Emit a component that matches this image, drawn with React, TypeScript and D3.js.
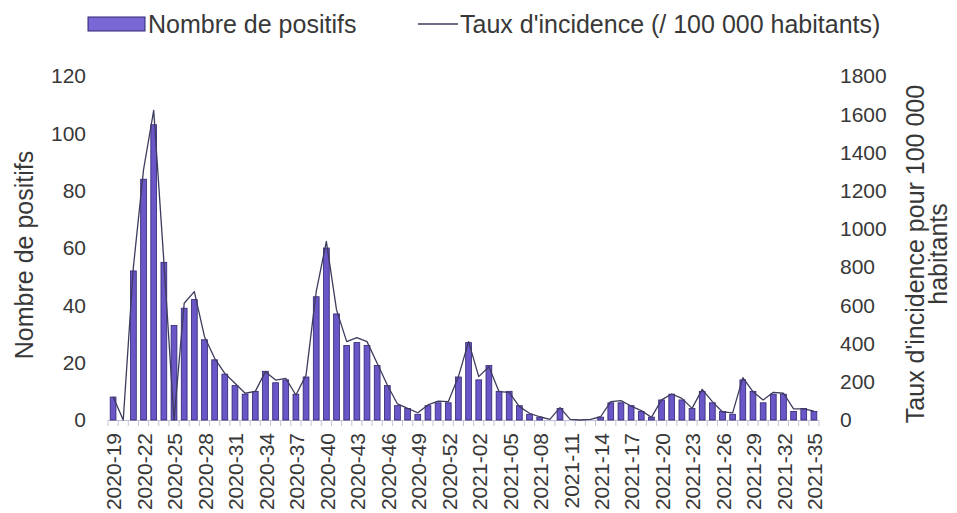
import React, { useEffect, useRef } from "react";
import * as d3 from "d3";

const weeks = [
  "2020-19", "2020-20", "2020-21", "2020-22", "2020-23", "2020-24", "2020-25", "2020-26", "2020-27", "2020-28",
  "2020-29", "2020-30", "2020-31", "2020-32", "2020-33", "2020-34", "2020-35", "2020-36", "2020-37", "2020-38",
  "2020-39", "2020-40", "2020-41", "2020-42", "2020-43", "2020-44", "2020-45", "2020-46", "2020-47", "2020-48",
  "2020-49", "2020-50", "2020-51", "2020-52", "2020-53", "2021-01", "2021-02", "2021-03", "2021-04", "2021-05",
  "2021-06", "2021-07", "2021-08", "2021-09", "2021-10", "2021-11", "2021-12", "2021-13", "2021-14", "2021-15",
  "2021-16", "2021-17", "2021-18", "2021-19", "2021-20", "2021-21", "2021-22", "2021-23", "2021-24", "2021-25",
  "2021-26", "2021-27", "2021-28", "2021-29", "2021-30", "2021-31", "2021-32", "2021-33", "2021-34", "2021-35",
];

// weeks shown under the axis
const tickLabels = [
  "2020-19", "2020-22", "2020-25", "2020-28", "2020-31", "2020-34", "2020-37", "2020-40", "2020-43", "2020-46",
  "2020-49", "2020-52", "2021-02", "2021-05", "2021-08", "2021-11", "2021-14", "2021-17", "2021-20", "2021-23",
  "2021-26", "2021-29", "2021-32", "2021-35",
];

const positifs = [
  8, 0, 52, 84, 103, 55, 33, 39, 42, 28,
  21, 16, 12, 9, 10, 17, 13, 14, 9, 15,
  43, 60, 37, 26, 27, 26, 19, 12, 5, 4,
  2, 5, 6, 6, 15, 27, 14, 19, 10, 10,
  5, 2, 1, 0, 4, 0, 0, 0, 1, 6,
  6, 5, 3, 1, 7, 9, 7, 4, 10, 6,
  3, 2, 14, 10, 6, 9, 9, 3, 4, 3,
];

const incidence = [
  122, 0, 800, 1310, 1620, 830, 0, 611, 672, 436,
  323, 244, 192, 140, 150, 253, 209, 218, 131, 235,
  672, 934, 576, 410, 431, 410, 297, 183, 84, 61,
  38, 79, 99, 96, 227, 410, 227, 279, 148, 145,
  70, 35, 17, 3, 65, 3, 0, 3, 17, 96,
  101, 73, 49, 14, 105, 136, 113, 61, 160, 96,
  42, 37, 222, 148, 105, 145, 140, 58, 58, 46,
];

const leftTicks = [0, 20, 40, 60, 80, 100, 120];
const rightTicks = [0, 200, 400, 600, 800, 1000, 1200, 1400, 1600, 1800];

const W = 957;
const H = 513;
const FONT = "'Liberation Sans', Arial, sans-serif";
const BAR_FILL = "#6a56c6";
const BAR_STROKE = "#2e2672";
const LINE_COLOR = "#3c3c5e";
const TEXT_COLOR = "#383838";

export default function App() {
  const svgRef = useRef<SVGSVGElement | null>(null);

  useEffect(() => {
    const svg = d3.select(svgRef.current);
    svg.selectAll("*").remove();

    const x = d3.scaleBand<string>().domain(weeks).range([108, 819]).padding(0);
    const yL = d3.scaleLinear().domain([0, 120]).range([420, 76]);
    const yR = d3.scaleLinear().domain([0, 1800]).range([420, 76]);
    const bw = x.bandwidth() * 0.57;
    const cx = (w: string) => (x(w) as number) + x.bandwidth() / 2;

    // x axis line + ticks at band edges
    svg.append("line")
      .attr("x1", x.range()[0]).attr("x2", x.range()[1])
      .attr("y1", 420.5).attr("y2", 420.5)
      .style("stroke", "#bcbcd4").style("stroke-width", 1);

    const edges = weeks.map((w) => x(w) as number).concat([x.range()[1]]);
    svg.selectAll(".xtick")
      .data(edges)
      .enter().append("line")
      .attr("class", "xtick")
      .attr("x1", (d) => d).attr("x2", (d) => d)
      .attr("y1", 420).attr("y2", 426)
      .style("stroke", "#c4c4d8").style("stroke-width", 1);

    // bars
    svg.selectAll(".bar")
      .data(weeks)
      .enter().append("rect")
      .attr("class", "bar")
      .attr("x", (d) => cx(d) - bw / 2)
      .attr("width", bw)
      .attr("y", (d, i) => yL(positifs[i]))
      .attr("height", (d, i) => 420 - yL(positifs[i]))
      .style("fill", BAR_FILL)
      .style("stroke", BAR_STROKE)
      .style("stroke-width", 0.8);

    // incidence line
    const line = d3.line<number>()
      .x((d, i) => cx(weeks[i]))
      .y((d) => yR(d));

    svg.append("path")
      .datum(incidence)
      .attr("d", line)
      .style("fill", "none")
      .style("stroke", LINE_COLOR)
      .style("stroke-width", 1.3)
      .style("stroke-linejoin", "round");

    // left ticks
    svg.selectAll(".lt")
      .data(leftTicks)
      .enter().append("text")
      .attr("x", 86)
      .attr("y", (d) => yL(d))
      .attr("dy", "0.35em")
      .attr("text-anchor", "end")
      .style("font-family", FONT)
      .style("font-size", "21px")
      .style("fill", TEXT_COLOR)
      .text((d) => d);

    // right ticks
    svg.selectAll(".rt")
      .data(rightTicks)
      .enter().append("text")
      .attr("x", 840)
      .attr("y", (d) => yR(d))
      .attr("dy", "0.35em")
      .attr("text-anchor", "start")
      .style("font-family", FONT)
      .style("font-size", "21px")
      .style("fill", TEXT_COLOR)
      .text((d) => d);

    // week labels
    svg.selectAll(".wl")
      .data(tickLabels)
      .enter().append("text")
      .attr("transform", (d) => `translate(${cx(d) + 1},433) rotate(-90)`)
      .attr("dy", "0.35em")
      .attr("text-anchor", "end")
      .style("font-family", FONT)
      .style("font-size", "21px")
      .style("fill", TEXT_COLOR)
      .text((d) => d);

    // axis titles
    svg.append("text")
      .attr("transform", "translate(24,255) rotate(-90)")
      .attr("dy", "0.35em")
      .attr("text-anchor", "middle")
      .style("font-family", FONT)
      .style("font-size", "25px")
      .style("fill", TEXT_COLOR)
      .text("Nombre de positifs");

    const rTitle = ["Taux d'incidence pour 100 000", "habitants"];
    svg.selectAll(".rtitle")
      .data(rTitle)
      .enter().append("text")
      .attr("transform", (d, i) => `translate(${915 + i * 23},254) rotate(-90)`)
      .attr("dy", "0.35em")
      .attr("text-anchor", "middle")
      .style("font-family", FONT)
      .style("font-size", "25px")
      .style("fill", TEXT_COLOR)
      .text((d) => d);

    // legend
    const lg = svg.append("g");
    lg.append("rect")
      .attr("x", 88).attr("y", 17).attr("width", 57).attr("height", 14)
      .style("fill", "#7b68d6").style("stroke", BAR_STROKE).style("stroke-width", 1);
    lg.append("text")
      .attr("x", 148).attr("y", 24).attr("dy", "0.35em")
      .style("font-family", FONT).style("font-size", "25px").style("fill", TEXT_COLOR)
      .text("Nombre de positifs");
    lg.append("line")
      .attr("x1", 418).attr("x2", 458).attr("y1", 24).attr("y2", 24)
      .style("stroke", LINE_COLOR).style("stroke-width", 1.3);
    lg.append("text")
      .attr("x", 460).attr("y", 24).attr("dy", "0.35em")
      .style("font-family", FONT).style("font-size", "25px").style("fill", TEXT_COLOR)
      .text("Taux d'incidence (/ 100 000 habitants)");
  }, []);

  return (
    <div style={{ position: "absolute", left: 0, top: 0, width: W, height: H, background: "#fff" }}>
      <svg ref={svgRef} width={W} height={H}></svg>
    </div>
  );
}
